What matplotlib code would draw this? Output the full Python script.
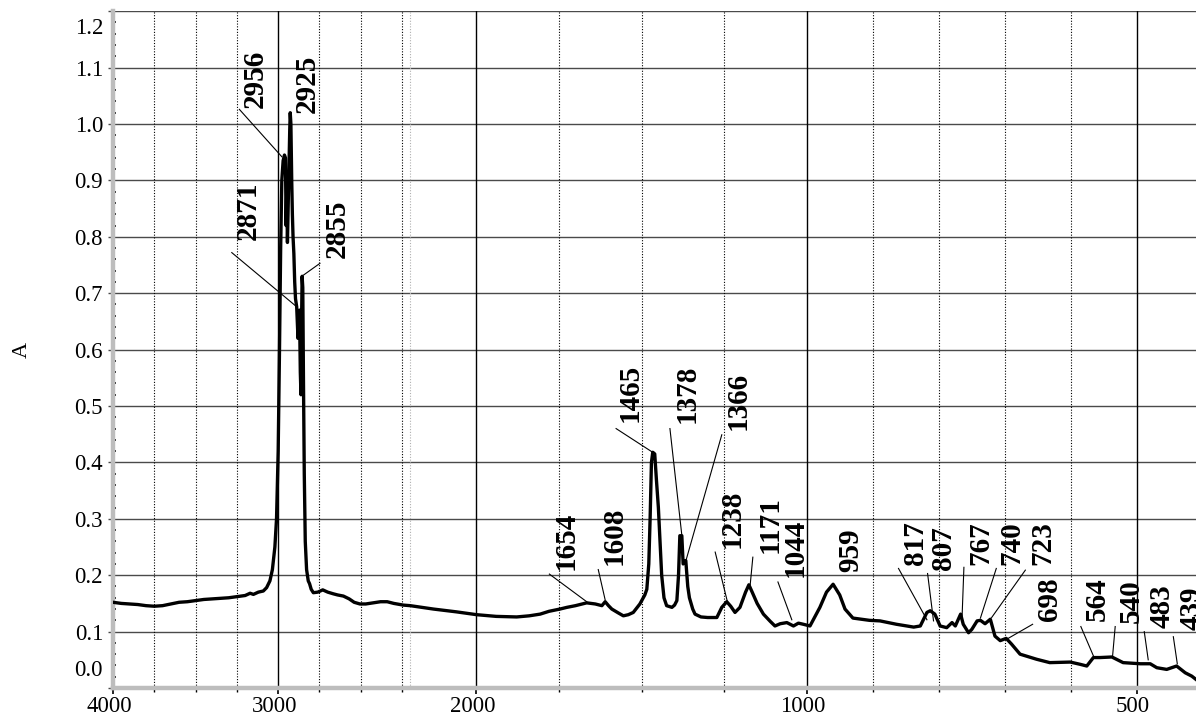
import numpy as np
import matplotlib
matplotlib.use("Agg")
import matplotlib.pyplot as plt
from matplotlib.ticker import FixedLocator, MultipleLocator, FormatStrFormatter
from matplotlib.transforms import ScaledTranslation

plt.rcParams['font.family'] = ['Liberation Serif', 'DejaVu Serif']

# ---------------- data: IR absorbance spectrum ----------------
wavenumber = [4000, 3975, 3950, 3900, 3850, 3800, 3750, 3700, 3650, 3600, 3550, 3500, 3450, 3400,
              3350, 3300, 3250, 3200, 3170, 3150, 3120, 3090, 3070, 3050, 3035, 3020, 3010, 3000,
              2992, 2985, 2978, 2970, 2962, 2956, 2952, 2948, 2944, 2940, 2935, 2930, 2927, 2923,
              2918, 2914, 2910, 2905, 2900, 2895, 2888, 2880, 2875, 2871, 2866, 2862, 2858, 2855,
              2851, 2847, 2842, 2836, 2828, 2818, 2810, 2800, 2787, 2760, 2730, 2700, 2666, 2640,
              2605, 2570, 2540, 2505, 2470, 2424, 2380, 2340, 2300, 2242, 2200, 2130, 2060, 1999,
              1940, 1878, 1840, 1807, 1780, 1747, 1726, 1700, 1680, 1666, 1640, 1620, 1610, 1600,
              1590, 1570, 1555, 1540, 1525, 1505, 1490, 1484, 1478, 1474, 1470, 1466, 1460, 1455,
              1449, 1443, 1439, 1432, 1424, 1408, 1400, 1393, 1388, 1384, 1378, 1374, 1366, 1360,
              1355, 1345, 1338, 1320, 1300, 1272, 1257, 1242, 1230, 1217, 1202, 1185, 1175, 1165,
              1150, 1131, 1110, 1096, 1080, 1060, 1050, 1040, 1025, 1010, 995, 980, 970, 960,
              950, 942, 930, 905, 889, 864, 838, 828, 818, 813, 806, 798, 788, 780, 775, 767,
              763, 755, 750, 742, 737, 730, 722, 715, 707, 698, 690, 677, 652, 632, 601, 586,
              576, 566, 556, 538, 521, 495, 480, 470, 455, 440, 427, 417, 405, 400]
absorbance = [0.152, 0.151, 0.150, 0.149, 0.148, 0.146, 0.145, 0.146, 0.149, 0.152, 0.153, 0.155, 0.157, 0.158,
              0.159, 0.160, 0.162, 0.164, 0.168, 0.166, 0.170, 0.172, 0.178, 0.190, 0.210, 0.250, 0.300, 0.420,
              0.600, 0.780, 0.900, 0.935, 0.945, 0.940, 0.820, 0.880, 0.790, 0.850, 0.930, 0.990, 1.020, 1.000,
              0.900, 0.840, 0.800, 0.770, 0.720, 0.690, 0.676, 0.620, 0.650, 0.670, 0.560, 0.520, 0.660, 0.730,
              0.710, 0.550, 0.380, 0.260, 0.210, 0.190, 0.185, 0.175, 0.169, 0.170, 0.174, 0.170, 0.167, 0.165,
              0.163, 0.158, 0.152, 0.149, 0.149, 0.151, 0.153, 0.153, 0.150, 0.147, 0.146, 0.140, 0.135, 0.130,
              0.127, 0.126, 0.128, 0.131, 0.136, 0.140, 0.143, 0.146, 0.149, 0.151, 0.149, 0.146, 0.153, 0.146,
              0.140, 0.133, 0.128, 0.130, 0.134, 0.149, 0.165, 0.175, 0.220, 0.300, 0.400, 0.418, 0.415, 0.370,
              0.320, 0.250, 0.200, 0.160, 0.146, 0.143, 0.147, 0.155, 0.200, 0.270, 0.270, 0.220, 0.226, 0.180,
              0.160, 0.140, 0.131, 0.126, 0.125, 0.125, 0.143, 0.153, 0.145, 0.134, 0.143, 0.170, 0.183, 0.170,
              0.150, 0.131, 0.118, 0.110, 0.114, 0.116, 0.113, 0.110, 0.115, 0.113, 0.110, 0.143, 0.170, 0.184,
              0.165, 0.140, 0.124, 0.120, 0.119, 0.113, 0.108, 0.110, 0.134, 0.137, 0.131, 0.110, 0.107, 0.116,
              0.110, 0.131, 0.113, 0.098, 0.104, 0.119, 0.120, 0.114, 0.122, 0.092, 0.084, 0.088, 0.078, 0.060,
              0.051, 0.045, 0.046, 0.042, 0.039, 0.054, 0.054, 0.055, 0.045, 0.043, 0.043, 0.036, 0.033, 0.039,
              0.027, 0.021, 0.010, 0.005]

# peak labels
peak_labels = ['2956', '2925', '2871', '2855', '1654', '1608', '1465', '1378', '1366', '1238', '1171',
               '1044', '959', '817', '807', '767', '740', '723', '698', '564', '540', '483', '439']

# axis ticks
x_major = [4000, 3000, 2000, 1000, 500]
x_minor = [3750, 3500, 3250, 2750, 2500, 2250, 1750, 1500, 1250, 900, 800, 700, 600]
x_break = 2200
y_ticks = [0.0, 0.1, 0.2, 0.3, 0.4, 0.5, 0.6, 0.7, 0.8, 0.9, 1.0, 1.1, 1.2]

# ---------------- annotation layout (label anchor & leader line) ----------------
# (label x, label bottom y, leader start x, start y, leader end x, end y); None = no leader
label_layout = [
    (3140, 1.028, 3235, 1.026, 2978, 0.942),
    (2822, 1.019, None, None, None, None),
    (3181, 0.794, 3281, 0.772, 2888, 0.676),
    (2641, 0.762, 2747, 0.753, 2857, 0.730),
    (1729, 0.209, 1779, 0.202, 1666, 0.153),
    (1583, 0.218, 1631, 0.210, 1610, 0.156),
    (1533, 0.472, 1577, 0.460, 1469, 0.419),
    (1361, 0.469, 1414, 0.460, 1378, 0.271),
    (1207, 0.457, 1257, 0.449, 1365, 0.227),
    (1225, 0.248, 1277, 0.241, 1240, 0.153),
    (1111, 0.239, 1163, 0.232, 1171, 0.183),
    (1035, 0.197, 1087, 0.188, 1045, 0.121),
    (933, 0.206, None, None, None, None),
    (836, 0.218, 861, 0.212, 818, 0.121),
    (793, 0.209, 817, 0.203, 808, 0.119),
    (737, 0.218, 762, 0.214, 765, 0.119),
    (690, 0.218, 713, 0.212, 737, 0.124),
    (643, 0.218, 669, 0.209, 720, 0.125),
    (632, 0.118, 658, 0.113, 695, 0.088),
    (560, 0.118, 585, 0.109, 566, 0.057),
    (509, 0.115, 533, 0.109, 537, 0.056),
    (462, 0.106, 489, 0.100, 483, 0.050),
    (417, 0.103, 445, 0.091, 439, 0.043),
]


# piecewise-linear wavenumber scale (expanded below 2200 and below 1000)
def fwd(w):
    w = np.asarray(w, dtype=float)
    return np.where(w >= 2200, w - 4000,
                    np.where(w >= 1000, -1800 + 2 * (w - 2200), -4200 + 4 * (w - 1000)))


def inv(t):
    t = np.asarray(t, dtype=float)
    return np.where(t >= -1800, t + 4000,
                    np.where(t >= -4200, 2200 + (t + 1800) / 2, 1000 + (t + 4200) / 4))


fig = plt.figure(figsize=(11.96, 7.19), dpi=100)
ax = fig.add_axes([0.0945, 0.0431, 0.9114, 0.9413])
ax.set_xscale('function', functions=(fwd, inv))
ax.set_xlim(4000, 400)
ax.set_ylim(0.0, 1.2)

# grid
for v in y_ticks[1:]:
    ax.axhline(v, color='#4a4a4a', lw=1.0, zorder=1)
for v in x_major[1:]:
    ax.axvline(v, color='black', lw=1.0, zorder=1)
for v in x_minor:
    ax.axvline(v, color='black', lw=0.8, ls=(0, (1, 1.5)), zorder=1)
ax.axvline(x_break, color='#b0b0b0', lw=0.8, ls=(0, (1, 1.5)), zorder=1)

# spectrum
ax.plot(wavenumber, absorbance, color='black', lw=2.4, solid_joinstyle='round', zorder=3)

# labels
for txt, (lx, ly, sx, sy, ex, ey) in zip(peak_labels, label_layout):
    ax.text(lx, ly, txt, rotation=90, ha='center', va='bottom', fontsize=21,
            fontweight='bold', color='black', zorder=4)
    if sx is not None:
        ax.plot([sx, ex], [sy, ey], color='black', lw=0.8, zorder=4)

# axes styling
for s in ['top', 'right']:
    ax.spines[s].set_visible(False)
for s in ['left', 'bottom']:
    ax.spines[s].set_color('#bdbdbd')
    ax.spines[s].set_linewidth(3.2)

ax.xaxis.set_major_locator(FixedLocator(x_major))
ax.xaxis.set_minor_locator(FixedLocator(x_minor))
ax.set_xticklabels([str(v) for v in x_major])
ax.yaxis.set_major_locator(FixedLocator(y_ticks))
ax.yaxis.set_minor_locator(MultipleLocator(0.02))
ax.yaxis.set_major_formatter(FormatStrFormatter('%.1f'))

ax.tick_params(axis='x', which='major', direction='out', length=4.5, width=1.2, color='black',
               labelsize=16.4, pad=1.5)
ax.tick_params(axis='x', which='minor', direction='out', length=3, width=1.0, color='black')
ax.tick_params(axis='y', which='major', direction='out', length=3.4, width=1.0, color='#4a4a4a',
               labelsize=16.4, pad=3.8)
ax.tick_params(axis='y', which='minor', direction='in', length=2.0, width=1.2, color='black')

# shift tick labels like the original
for lab in ax.get_xticklabels():
    lab.set_transform(lab.get_transform() + ScaledTranslation(-0.04, 0, fig.dpi_scale_trans))
ylabs = ax.get_yticklabels()
ylabs[-1].set_transform(ylabs[-1].get_transform() + ScaledTranslation(0, -0.15, fig.dpi_scale_trans))
ylabs[0].set_transform(ylabs[0].get_transform() + ScaledTranslation(0, 0.20, fig.dpi_scale_trans))

ax.set_ylabel('A', fontsize=16)
ax.yaxis.set_label_coords(-0.0747, 0.5)

fig.savefig('out.png', dpi=100)
